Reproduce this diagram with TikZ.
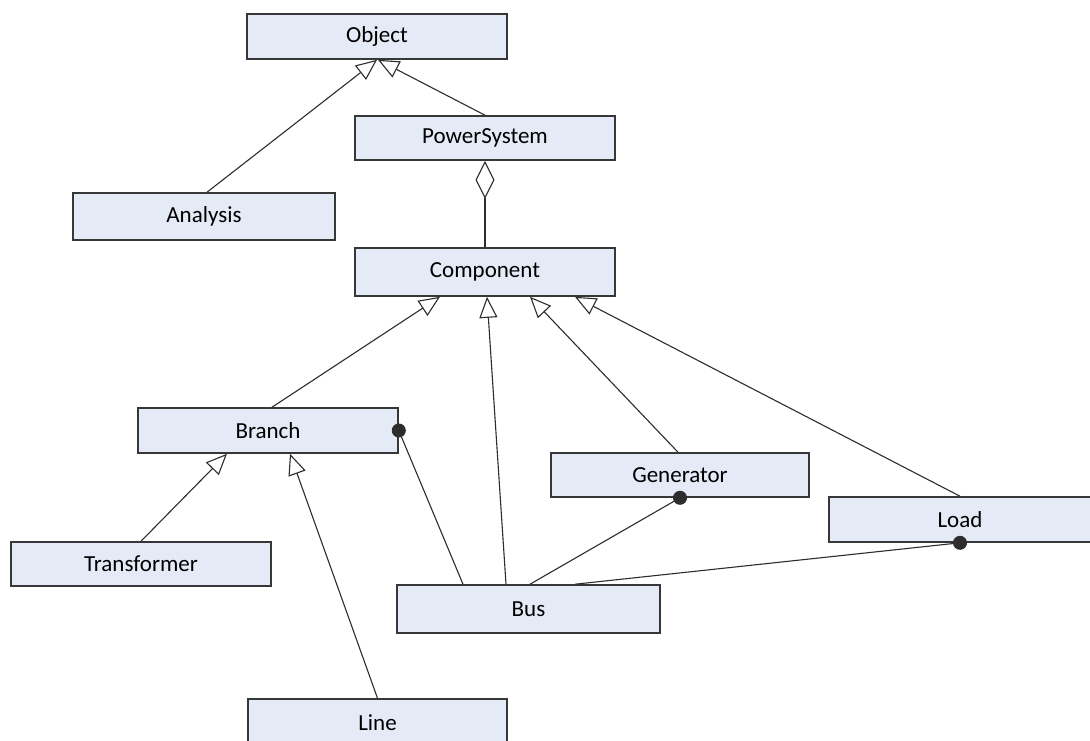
\documentclass[tikz,border=0pt]{standalone}
\usepackage{fontspec}
\setmainfont{Carlito}
\usetikzlibrary{arrows.meta,calc}
\definecolor{boxfill}{RGB}{229,235,246}
\definecolor{boxline}{RGB}{55,55,55}
\definecolor{conline}{RGB}{45,45,45}
\begin{document}
\begin{tikzpicture}[x=1pt,y=-1pt,
  cls/.style={draw=boxline,line width=1.6pt,fill=boxfill,rectangle,minimum width=260pt,minimum height=45pt,inner sep=0pt,font=\fontsize{23}{27}\selectfont,text=black},
  inherit/.style={draw=conline,line width=1.1pt,-{Triangle[open,length=21pt,width=18pt,line width=1.1pt]}},
  aggr/.style={draw=conline,line width=1.1pt,-{Diamond[open,length=38pt,width=19pt,line width=1.1pt]}},
  assoc/.style={draw=conline,line width=1.1pt,shorten >=-7pt,-{Circle[length=14pt]}}]
\useasboundingbox (0,0) rectangle (1090,740);
\clip (0,0) rectangle (1090,740);
\fill[white] (0,0) rectangle (1090,740);
\node[cls] (obj) at (377,36.5) {Object};
\node[cls,minimum height=44pt] (ps) at (485,138) {PowerSystem};
\node[cls,minimum width=262pt,minimum height=47pt] (ana) at (204,216.5) {Analysis};
\node[cls,minimum height=48pt] (comp) at (485,272) {Component};
\node[cls] (br) at (268,430.5) {Branch};
\node[cls,minimum width=258pt,minimum height=44pt] (gen) at (680,475) {Generator};
\node[cls,minimum width=262pt] (load) at (960,519.5) {Load};
\node[cls,minimum height=44pt] (tr) at (141,564) {Transformer};
\node[cls,minimum width=263pt,minimum height=48pt] (bus) at (528.5,609) {Bus};
\node[cls,minimum width=259pt,minimum height=48pt] (line) at (377.5,723) {Line};
% inheritance
\draw[inherit] ([xshift=3pt]ana.north) -- (obj.south);
\draw[inherit] (ps.north) -- ([xshift=1pt]obj.south);
\draw[aggr] (comp.north) -- (ps.south);
\draw[inherit] ([xshift=4pt]br.north) -- ([xshift=-45pt]comp.south);
\draw[inherit] ([xshift=-22.5pt]bus.north) -- ([xshift=2pt]comp.south);
\draw[inherit] ([xshift=-2pt]gen.north) -- ([xshift=45pt]comp.south);
\draw[inherit] (load.north) -- ([xshift=90pt]comp.south);
\draw[inherit] (tr.north) -- ([xshift=-41pt]br.south);
\draw[inherit] (line.north) -- ([xshift=22pt]br.south);
% associations
\draw[assoc] ([xshift=-65.5pt]bus.north) -- (br.east);
\draw[assoc] ([xshift=1.5pt]bus.north) -- (gen.south);
\draw[assoc] ([xshift=46.5pt]bus.north) -- (load.south);
\end{tikzpicture}
\end{document}
